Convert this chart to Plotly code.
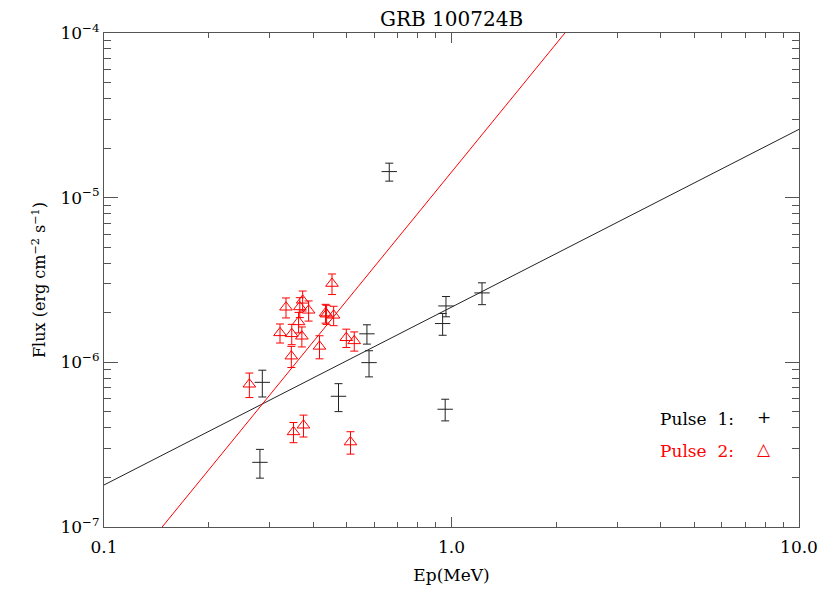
import plotly.graph_objects as go

FONT = "DejaVu Serif, Liberation Serif, serif"
RED = "#ff0000"
BLACK = "#222222"
FRAME = "#555555"

# Pulse 1 (black crosses): Ep in MeV, flux in erg cm^-2 s^-1
p1_ep = [0.281, 0.2855, 0.473, 0.571, 0.579, 0.662, 0.943, 0.964, 0.959, 1.224]
p1_flux = [2.47e-7, 7.56e-7, 6.22e-7, 1.49e-6, 9.96e-7, 1.44e-5, 1.72e-6, 2.20e-6, 5.19e-7, 2.64e-6]
p1_err = [4.9e-8, 1.4e-7, 1.2e-7, 2.0e-7, 1.8e-7, 1.8e-6, 2.6e-7, 3.1e-7, 7.8e-8, 4.0e-7]

# Pulse 2 (red triangles)
p2_ep = [0.453, 0.334, 0.373, 0.366, 0.388, 0.434, 0.437, 0.458, 0.363, 0.321,
         0.347, 0.371, 0.417, 0.498, 0.525, 0.346, 0.262, 0.351, 0.375, 0.512]
p2_flux = [3.01e-6, 2.16e-6, 2.38e-6, 2.17e-6, 2.07e-6, 1.99e-6, 1.96e-6, 1.93e-6, 1.76e-6, 1.51e-6,
           1.49e-6, 1.44e-6, 1.25e-6, 1.41e-6, 1.35e-6, 1.09e-6, 7.36e-7, 3.78e-7, 4.15e-7, 3.28e-7]
p2_err = [4.3e-7, 3.0e-7, 3.3e-7, 3.0e-7, 2.9e-7, 2.6e-7, 2.6e-7, 2.6e-7, 2.5e-7, 2.0e-7,
          2.1e-7, 2.0e-7, 2.0e-7, 1.8e-7, 1.8e-7, 1.6e-7, 1.25e-7, 5.3e-8, 6.3e-8, 5.1e-8]

# best-fit power laws, endpoints inside the plot window
fit1_ep = [0.1, 10.0]
fit1_flux = [1.8e-7, 2.6e-5]
fit2_ep = [0.147, 2.12]
fit2_flux = [1.0e-7, 1.0e-4]

x_ticks = [0.1, 1.0, 10.0]
x_labels = ["0.1", "1.0", "10.0"]
y_ticks = [1e-7, 1e-6, 1e-5, 1e-4]
y_labels = ["10<sup>−7</sup>", "10<sup>−6</sup>", "10<sup>−5</sup>", "10<sup>−4</sup>"]
x_minor = [m * d for d in (0.1, 1.0) for m in range(2, 10)]
y_minor = [m * d for d in (1e-7, 1e-6, 1e-5) for m in range(2, 10)]

fig = go.Figure()

fig.add_trace(go.Scatter(
    x=fit1_ep, y=fit1_flux, mode="lines",
    line=dict(color=BLACK, width=1), showlegend=False,
))
fig.add_trace(go.Scatter(
    x=fit2_ep, y=fit2_flux, mode="lines",
    line=dict(color=RED, width=1), showlegend=False,
))
fig.add_trace(go.Scatter(
    x=p1_ep, y=p1_flux, mode="markers", name="Pulse 1",
    marker=dict(symbol="line-ew-open", size=11, color=BLACK, line=dict(color=BLACK, width=1)),
    error_y=dict(type="data", array=p1_err, color=BLACK, thickness=1, width=4),
    showlegend=False,
))
fig.add_trace(go.Scatter(
    x=p2_ep, y=p2_flux, mode="markers", name="Pulse 2",
    marker=dict(symbol="triangle-up-open", size=11, color=RED, line=dict(color=RED, width=1)),
    error_y=dict(type="data", array=p2_err, color=RED, thickness=1, width=4),
    showlegend=False,
))

_AXIS = dict(
    type="log", showline=True, linecolor=FRAME, linewidth=1, mirror="ticks",
    ticks="inside", tickcolor=FRAME, showgrid=False, zeroline=False, automargin=False,
    tickfont=dict(family=FONT, size=17, color="black"),
)

# page body adds an 8px offset, so the figure is drawn 16px smaller
fig.update_layout(
    width=814, height=577, autosize=False,
    paper_bgcolor="white", plot_bgcolor="white",
    margin=dict(l=96, r=23, t=25, b=58),
    font=dict(family=FONT, color="black"),
    xaxis=dict(
        **_AXIS, range=[-1, 1], tickvals=x_ticks, ticktext=x_labels, ticklen=10,
        ticklabelstandoff=5,
        minor=dict(tickvals=x_minor, ticks="inside", ticklen=5, tickcolor=FRAME, showgrid=False),
        title=dict(text="Ep(MeV)", font=dict(family=FONT, size=17), standoff=12),
    ),
    yaxis=dict(
        **_AXIS, range=[-7, -4], tickvals=y_ticks, ticktext=y_labels, ticklen=14,
        minor=dict(tickvals=y_minor, ticks="inside", ticklen=7, tickcolor=FRAME, showgrid=False),
        title=dict(text="Flux (erg cm<sup>−2</sup> s<sup>−1</sup>)", font=dict(family=FONT, size=16), standoff=10),
    ),
    annotations=[
        dict(text="GRB 100724B", xref="paper", yref="paper", x=0.5, y=1, yanchor="bottom",
             yshift=1, borderpad=0, showarrow=False, font=dict(family=FONT, size=20, color="black")),
        dict(text="Pulse  1:", xref="paper", yref="paper", x=0.909, y=0.194, xanchor="right",
             showarrow=False, font=dict(family=FONT, size=17, color="black")),
        dict(text="+", xref="paper", yref="paper", x=0.95, y=0.198, xanchor="center",
             showarrow=False, font=dict(family=FONT, size=17, color="black")),
        dict(text="Pulse  2:", xref="paper", yref="paper", x=0.909, y=0.13, xanchor="right",
             showarrow=False, font=dict(family=FONT, size=17, color=RED)),
        dict(text="△", xref="paper", yref="paper", x=0.95, y=0.134, xanchor="center",
             showarrow=False, font=dict(family=FONT, size=17, color=RED)),
    ],
)

fig.write_html("out.html")
